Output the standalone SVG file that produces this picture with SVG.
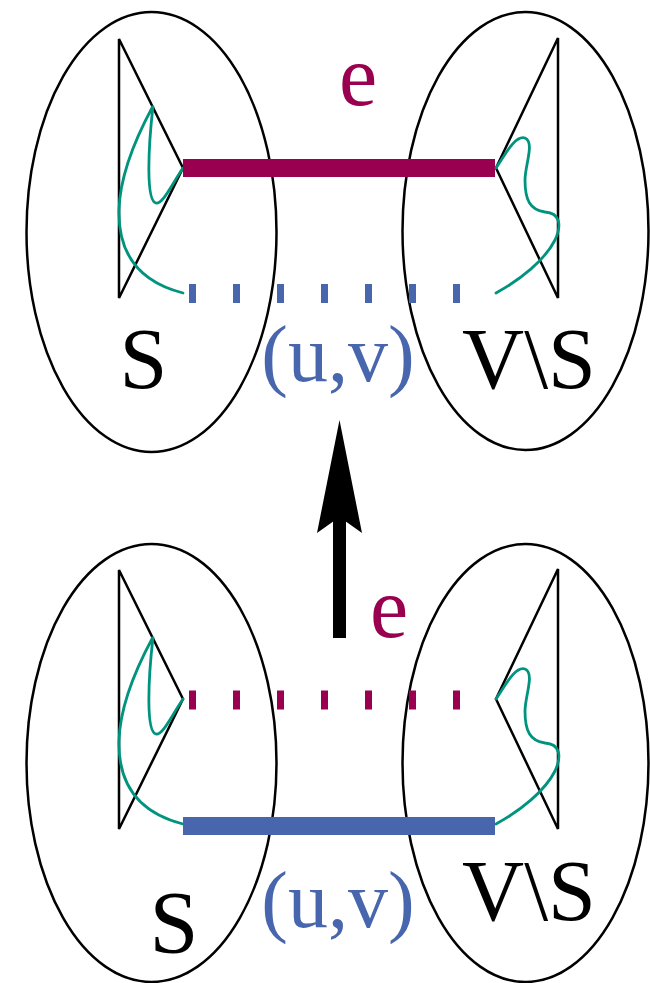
<svg xmlns="http://www.w3.org/2000/svg" width="650" height="983" viewBox="0 0 650 983">
<style>
.ell{fill:none;stroke:#000;stroke-width:2.5}
.tri{fill:none;stroke:#000;stroke-width:2.5;stroke-linejoin:miter}
.cur{fill:none;stroke:#00937e;stroke-width:2.8;stroke-linecap:round}
text{font-family:Liberation Serif,Times New Roman,Tinos,Noto Serif,DejaVu Serif,FreeSerif,serif;text-anchor:middle}
.blk{fill:#000}
.mag{fill:#990050}
.blu{fill:#4866ad}
</style>
<rect width="650" height="983" fill="#fff"/>
<g id="top">
  <g id="top-S">
    <ellipse class="ell" cx="151.5" cy="232" rx="125" ry="220"/>
    <polygon class="tri" points="119,39 183,168 119,298"/>
    <path class="cur" d="M183,168 C172,184 163,204 156,203 C146,201 148,150 153,106 C140,130 120,170 119,210 C118,255 140,282 183,293"/>
    <text class="blk" x="143.5" y="388" font-size="86">S</text>
  </g>
  <g id="top-VS">
    <ellipse class="ell" cx="525.5" cy="231" rx="123" ry="219"/>
    <polygon class="tri" points="558,38 496,168 558,298"/>
    <path class="cur" d="M496,168 C505,155 515,135 525,138 C535,142 525,165 525,180 C525,200 530,210 545,212 C560,213 562,225 555,240 C545,260 520,280 496,293"/>
    <text class="blk" x="529" y="388" font-size="86">V\S</text>
  </g>
</g>
<g id="bottom">
  <g id="bot-S">
    <ellipse class="ell" cx="151.5" cy="763" rx="125" ry="219"/>
    <polygon class="tri" points="119,570 183,699 119,829"/>
    <path class="cur" d="M183,699 C172,715 163,735 156,734 C146,732 148,681 153,637 C140,661 120,701 119,741 C118,786 140,813 183,824"/>
    <text class="blk" x="174" y="952" font-size="88">S</text>
  </g>
  <g id="bot-VS">
    <ellipse class="ell" cx="525.5" cy="763" rx="123" ry="219"/>
    <polygon class="tri" points="558,569 496,699 558,829"/>
    <path class="cur" d="M496,699 C505,686 515,666 525,669 C535,673 525,696 525,711 C525,731 530,741 545,743 C560,744 562,756 555,771 C545,791 520,811 496,824"/>
    <text class="blk" x="529" y="920" font-size="86">V\S</text>
  </g>
</g>
<g id="connectors">
  <line x1="183" y1="168" x2="495" y2="168" stroke="#990050" stroke-width="18"/>
  <line x1="189" y1="293.5" x2="460" y2="293.5" stroke="#4866ad" stroke-width="19" stroke-dasharray="7 37"/>
  <line x1="189" y1="700" x2="460" y2="700" stroke="#990050" stroke-width="19" stroke-dasharray="7 37"/>
  <line x1="183" y1="826" x2="495" y2="826" stroke="#4866ad" stroke-width="18"/>
  <g id="arrow">
    <rect x="333" y="510" width="13" height="128" fill="#000"/>
    <polygon points="339.5,420 362,533 339.5,517 317,533" fill="#000"/>
  </g>
  <text class="mag" x="358" y="105" font-size="86">e</text>
  <text class="blu" x="338" y="381" font-size="80">(u,v)</text>
  <text class="mag" x="389" y="637" font-size="86">e</text>
  <text class="blu" x="338" y="927" font-size="80">(u,v)</text>
</g>
</svg>
